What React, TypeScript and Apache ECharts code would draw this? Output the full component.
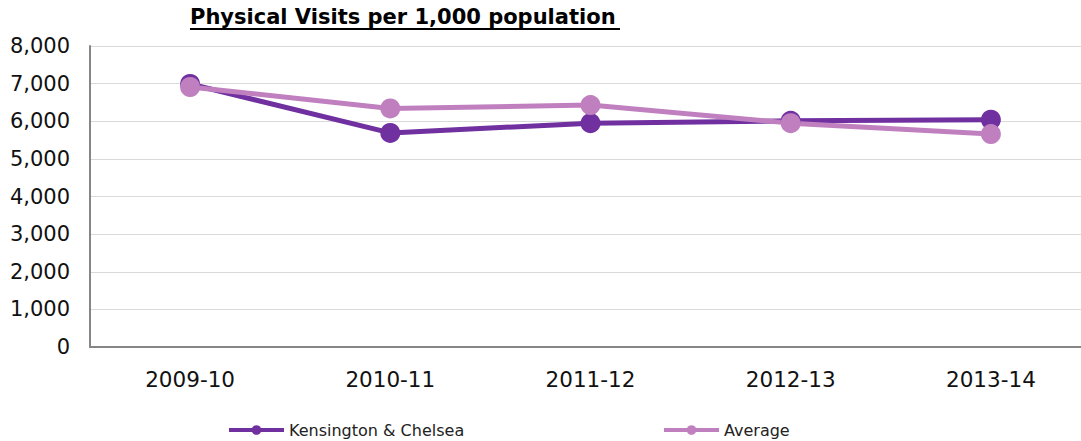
import React, { useEffect, useRef } from "react";
import * as echarts from "echarts";

const categories = ["2009-10", "2010-11", "2011-12", "2012-13", "2013-14"];
const kensington = [6990, 5690, 5950, 6010, 6040];
const average = [6910, 6340, 6430, 5950, 5660];
const yTicks = { min: 0, max: 8000, interval: 1000 };

const DARK = "#7030A0";
const LIGHT = "#C080C0";
const FONT = "'DejaVu Sans', Verdana, sans-serif";

export default function App() {
  const ref = useRef<HTMLDivElement>(null);
  useEffect(() => {
    document.body.style.margin = "0";
    const chart = echarts.init(ref.current!, undefined, { renderer: "svg" });
    const legendText = { fontSize: 16, color: "#222", fontFamily: FONT };
    const legendCommon = {
      top: 422,
      padding: 0,
      itemWidth: 55,
      itemHeight: 12,
      itemGap: 4,
      lineStyle: { width: 4 },
      textStyle: legendText,
    };
    chart.setOption({
      animation: false,
      textStyle: { fontFamily: FONT },
      graphic: [
        {
          type: "text",
          left: 190,
          top: 6,
          style: {
            text: "Physical Visits per 1,000 population",
            font: `bold 21px ${FONT}`,
            fill: "#000",
          },
        },
        {
          type: "line",
          shape: { x1: 190, y1: 29, x2: 620, y2: 29 },
          style: { stroke: "#000", lineWidth: 2 },
        },
      ],
      legend: [
        { ...legendCommon, data: ["Kensington & Chelsea"], left: 227 },
        { ...legendCommon, data: ["Average"], left: 662 },
      ],
      grid: { left: 90, right: 9, top: 46, bottom: 94 },
      xAxis: {
        type: "category",
        data: categories,
        boundaryGap: true,
        axisLine: { lineStyle: { color: "#868686", width: 2 } },
        axisTick: { show: false },
        axisLabel: { fontSize: 21.5, color: "#111", margin: 21, fontFamily: FONT },
      },
      yAxis: {
        type: "value",
        min: yTicks.min,
        max: yTicks.max,
        interval: yTicks.interval,
        axisLine: { show: true, lineStyle: { color: "#868686", width: 2 } },
        axisTick: { show: false },
        splitLine: { lineStyle: { color: "#D9D9D9", width: 1 } },
        axisLabel: {
          fontSize: 21,
          color: "#111",
          margin: 20,
          fontFamily: FONT,
          formatter: (v: number) => v.toLocaleString("en-US"),
        },
      },
      series: [
        {
          name: "Kensington & Chelsea",
          type: "line",
          data: kensington,
          symbol: "circle",
          symbolSize: 20,
          lineStyle: { color: DARK, width: 5 },
          itemStyle: { color: DARK },
        },
        {
          name: "Average",
          type: "line",
          data: average,
          symbol: "circle",
          symbolSize: 20,
          lineStyle: { color: LIGHT, width: 5 },
          itemStyle: { color: LIGHT },
        },
      ],
    });
    return () => chart.dispose();
  }, []);
  return (
    <div
      ref={ref}
      style={{ position: "absolute", left: 0, top: 0, width: 1100, height: 441 }}
    />
  );
}
